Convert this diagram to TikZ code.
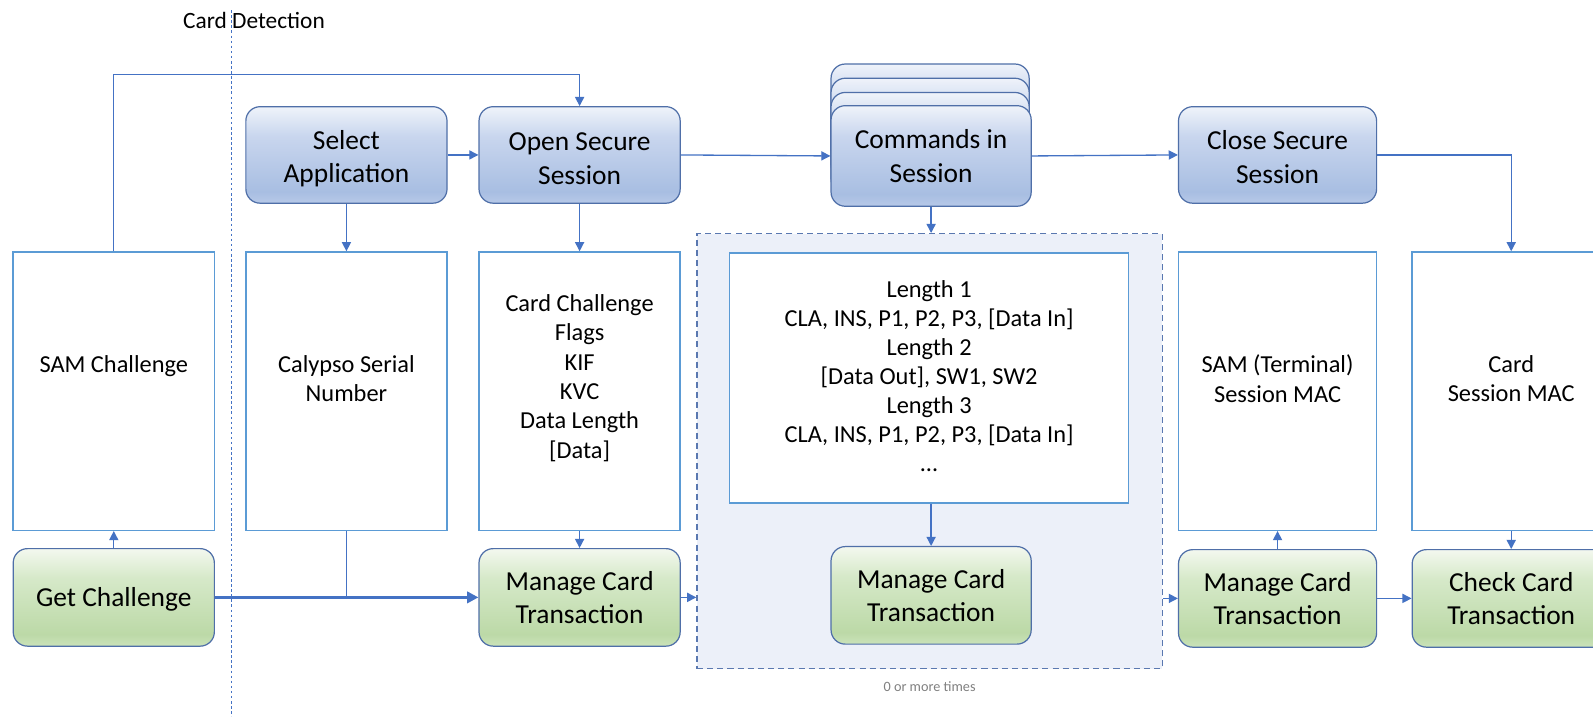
\documentclass[tikz,border=0pt]{standalone}
\usepackage{fontspec}
\setmainfont{Carlito}
\usetikzlibrary{arrows.meta}
\definecolor{lineblue}{HTML}{4472C4}
\definecolor{boxblue}{HTML}{5B9BD5}
\definecolor{bordblue}{HTML}{4F6FA8}
\definecolor{regfill}{HTML}{ECF0F9}
\definecolor{regborder}{HTML}{5A78B0}
\definecolor{notegray}{HTML}{808080}
\definecolor{bB}{HTML}{B7C9E8}
\definecolor{bD}{HTML}{A8BEE2}
\definecolor{bM}{HTML}{C9D6EE}
\definecolor{bT}{HTML}{EFF3FA}
\definecolor{gB}{HTML}{CBE3BA}
\definecolor{gD}{HTML}{BCD9A7}
\definecolor{gM}{HTML}{D6E9C9}
\definecolor{gT}{HTML}{F3F8EF}
\pgfdeclareverticalshading{bluegrad}{100bp}{color(0bp)=(bB); color(25bp)=(bB); color(31bp)=(bD); color(60bp)=(bM); color(75bp)=(bT); color(100bp)=(bT)}
\pgfdeclareverticalshading{greengrad}{100bp}{color(0bp)=(gB); color(25bp)=(gB); color(31bp)=(gD); color(60bp)=(gM); color(75bp)=(gT); color(100bp)=(gT)}
\newcommand\ttlfont{\fontsize{27}{33}\selectfont}
\newcommand\innfont{\fontsize{24}{29}\selectfont}
\tikzset{
  bluebox/.style={rounded corners=14pt, draw=bordblue, line width=1.2pt, shade, shading=bluegrad,
    minimum width=198pt, minimum height=95pt, inner sep=0pt, align=center, font=\ttlfont},
  greenbox/.style={rounded corners=14pt, draw=bordblue, line width=1.2pt, shade, shading=greengrad,
    minimum width=198pt, minimum height=96pt, inner sep=0pt, align=center, font=\ttlfont},
  whitebox/.style={draw=boxblue, fill=white, line width=1.4pt, minimum width=198pt, minimum height=274pt,
    inner sep=0pt},
  ttltext/.style={inner sep=0pt, align=center, font=\ttlfont},
  inntext/.style={inner sep=0pt, align=center, font=\innfont},
  conn/.style={draw=lineblue, line width=1.3pt, -{Triangle[length=9pt,width=9pt]}},
  thickconn/.style={draw=lineblue, line width=3pt, -{Triangle[length=11pt,width=11pt]}},
  plainline/.style={draw=lineblue, line width=1.3pt},
}
\begin{document}
\begin{tikzpicture}[x=1pt,y=-1pt]
\useasboundingbox (0,0) rectangle (1568,705);
\clip (0,0) rectangle (1568,705);
\fill[white] (0,0) rectangle (1568,705);

% card detection divider
\coordinate (dtop) at (228,10);
\coordinate (dbot) at (228,705);
\draw[lineblue, line width=1pt, dash pattern=on 2.5pt off 2.5pt] (dtop) -- (dbot);
\node[font=\fontsize{23}{27}\selectfont, inner sep=0pt] (cdet) at (250,20) {Card Detection};

% repeated region
\node[draw=regborder, fill=regfill, line width=1.3pt, dash pattern=on 6pt off 4pt,
  minimum width=458pt, minimum height=428pt, inner sep=0pt] (region) at (915,444) {};
\node[font=\fontsize{14}{17}\selectfont, text=notegray, inner sep=0pt] (note) at (915,676) {0 or more times};

% top row
\node[bluebox] (sel) at (341,152.5) {};
\node[ttltext] (selT) at ([yshift=-3.5pt]sel.center) {Select\\Application};
\node[bluebox] (open) at (570.5,152.5) {};
\node[ttltext] (openT) at ([yshift=-3.5pt]open.center) {Open Secure\\Session};
\node[bluebox, minimum width=195pt] (close) at (1257.5,152.5) {};
\node[ttltext] (closeT) at ([yshift=-2pt]close.center) {Close Secure\\Session};
\node[bluebox, minimum width=195pt, minimum height=99pt] (cs3) at (915.5,112.5) {};
\node[bluebox, minimum width=195pt, minimum height=99pt] (cs2) at (915.5,126.5) {};
\node[bluebox, minimum width=195pt, minimum height=99pt] (cs1) at (915.5,140.5) {};
\node[bluebox, minimum width=197pt, minimum height=99pt] (cmd) at (916.5,153.5) {Commands in\\Session};

% data boxes
\node[whitebox] (sam) at (112,385) {};
\node[inntext] (samT) at ([yshift=25pt]sam.center) {SAM Challenge};
\node[whitebox] (csn) at (341,385) {};
\node[inntext] (csnT) at ([yshift=12.5pt]csn.center) {Calypso Serial\\Number};
\node[whitebox] (cch) at (570.5,385) {};
\node[inntext] (cchT) at ([yshift=13pt]cch.center) {Card Challenge\\Flags\\KIF\\KVC\\Data Length\\{[Data]}};
\node[whitebox, minimum width=393pt, minimum height=246pt] (apdu) at (914.5,372) {};
\node[inntext, font=\fontsize{24}{28.5}\selectfont] (apduT) at ([yshift=2pt]apdu.center)
  {Length 1\\CLA, INS, P1, P2, P3, {[Data In]}\\Length 2\\{[Data Out]}, SW1, SW2\\Length 3\\CLA, INS, P1, P2, P3, {[Data In]}\\\dots};
\node[whitebox, minimum width=195pt] (stm) at (1257.5,385) {};
\node[inntext] (stmT) at ([yshift=12.5pt]stm.center) {SAM (Terminal)\\Session MAC};
\node[whitebox, minimum width=195pt] (cmac) at (1487.5,385) {};
\node[inntext] (cmacT) at ([yshift=12.5pt]cmac.center) {Card\\Session MAC};

% bottom row
\node[greenbox] (getc) at (112,588) {};
\node[ttltext] (getcT) at ([yshift=-2pt]getc.center) {Get Challenge};
\node[greenbox] (man1) at (570.5,588) {Manage Card\\Transaction};
\node[greenbox, minimum width=197pt] (man2) at (916.5,586) {Manage Card\\Transaction};
\node[greenbox, minimum width=195pt] (man3) at (1257.5,589) {Manage Card\\Transaction};
\node[greenbox, minimum width=195pt] (chk) at (1487.5,589) {Check Card\\Transaction};

% connectors
\coordinate (topc) at (0,73);
\draw[conn] (sam.north) -- (sam.north |- topc) -| (open.north);
\draw[conn] (sel.east) -- (open.west);
\draw[conn] (open.east) -- (cmd.west);
\draw[conn] (cmd.east) -- (close.west);
\draw[conn] (close.east) -| (cmac.north);
\draw[conn] (sel.south) -- (csn.north);
\draw[conn] (open.south) -- (cch.north);
\draw[conn] (cmd.south) -- (cmd.south |- region.north);
\draw[conn] (apdu.south -| man2.north) -- (man2.north);
\draw[conn] (getc.north) -- (sam.south);
\draw[plainline] (csn.south) -- (csn.south |- getc.east);
\draw[thickconn] (getc.east) -- (man1.west);
\draw[conn] (cch.south) -- (man1.north);
\draw[conn] (man1.east) -- (man1.east -| region.west);
\draw[conn] (region.east |- man3.west) -- (man3.west);
\draw[conn] (man3.north) -- (stm.south);
\draw[conn] (man3.east) -- (chk.west);
\draw[conn] (cmac.south) -- (chk.north);
\end{tikzpicture}
\end{document}
